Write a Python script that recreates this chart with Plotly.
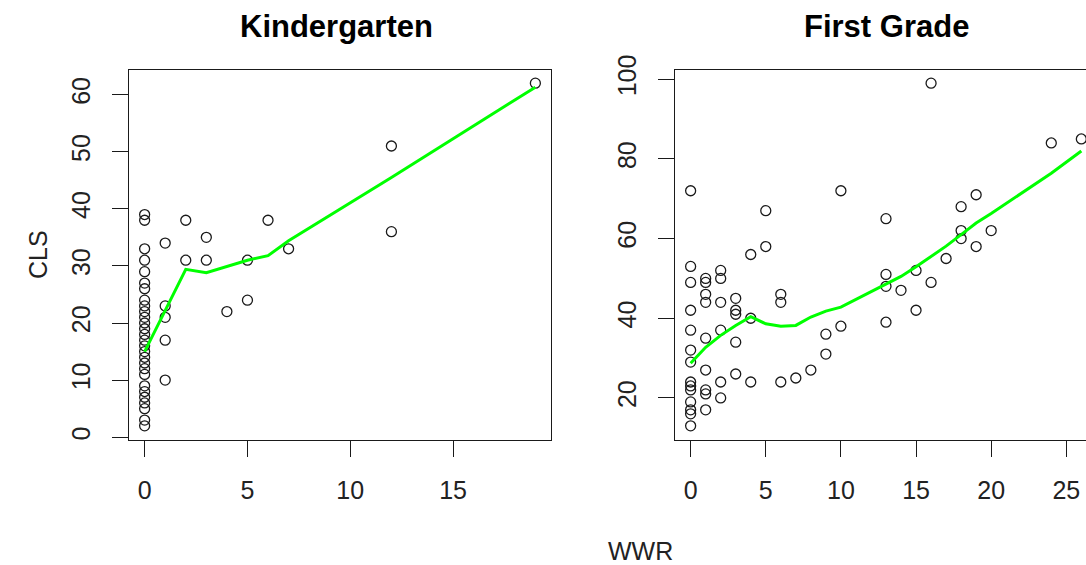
import plotly.graph_objects as go

# ---------------- data ----------------
kinder_wwr = [0]*28 + [1, 1, 1, 1, 1, 2, 2, 3, 3, 4, 5, 5, 6, 7, 12, 12, 19]
kinder_cls = [39, 38, 33, 31, 29, 27, 26, 24, 23, 22, 21, 20, 19, 18, 17, 16, 15, 14,
              13, 12, 11, 9, 8, 7, 6, 5, 3, 2,
              34, 23, 21, 17, 10, 38, 31, 35, 31, 22, 31, 24, 38, 33, 51, 36, 62]

kinder_fit_x = [0, 1, 2, 3, 4, 5, 6, 7, 12, 19]
kinder_fit_y = [15.0, 22.2, 29.4, 28.8, 29.9, 31.0, 31.8, 34.4, 45.5, 61.3]

first_wwr = ([0]*14 + [1]*9 + [2]*6 + [3]*5 + [4]*3 + [5]*2 + [6]*3 + [7, 8] + [9]*2 +
             [10]*2 + [13]*4 + [14] + [15]*2 + [16]*2 + [17] + [18]*3 + [19]*2 + [20, 24, 26])
first_cls = ([72, 53, 49, 42, 37, 32, 29, 24, 23, 22, 19, 17, 16, 13] +
             [50, 49, 46, 44, 35, 27, 22, 21, 17] +
             [52, 50, 44, 37, 24, 20] +
             [45, 42, 41, 34, 26] +
             [56, 40, 24] +
             [67, 58] +
             [46, 44, 24] +
             [25, 27] +
             [36, 31] +
             [72, 38] +
             [65, 51, 48, 39] +
             [47] +
             [52, 42] +
             [99, 49] +
             [55] +
             [68, 62, 60] +
             [71, 58] +
             [62, 84, 85])

first_fit_x = [0, 1, 2, 3, 4, 5, 6, 7, 8, 9, 10, 13, 14, 15, 16, 17, 18, 19, 20, 24, 26]
first_fit_y = [28.7, 32.7, 35.7, 38.2, 40.4, 38.6, 38.0, 38.2, 40.3, 41.8, 42.8, 48.5,
               50.5, 52.9, 55.4, 58.1, 61.0, 63.9, 66.3, 76.4, 82.0]

kinder_xticks = [0, 5, 10, 15]
kinder_yticks = [0, 10, 20, 30, 40, 50, 60]
first_xticks = [0, 5, 10, 15, 20, 25]
first_yticks = [20, 40, 60, 80, 100]

panel_titles = ["Kindergarten", "First Grade"]
x_title = "WWR"
y_title = "CLS"

# ---------------- figure ----------------
W, H = 1086, 565
FONT = "Liberation Sans, Arial, sans-serif"
INK = "#1a1a1a"

marker = dict(symbol="circle-open", size=10, color=INK, line=dict(width=1.3, color=INK))
fitline = dict(color="#00ff00", width=3)

fig = go.Figure()
fig.add_trace(go.Scatter(x=kinder_wwr, y=kinder_cls, mode="markers", marker=marker,
                         xaxis="x", yaxis="y", showlegend=False, hoverinfo="x+y"))
fig.add_trace(go.Scatter(x=kinder_fit_x, y=kinder_fit_y, mode="lines", line=fitline,
                         xaxis="x", yaxis="y", showlegend=False))
fig.add_trace(go.Scatter(x=first_wwr, y=first_cls, mode="markers", marker=marker,
                         xaxis="x2", yaxis="y2", showlegend=False, hoverinfo="x+y"))
fig.add_trace(go.Scatter(x=first_fit_x, y=first_fit_y, mode="lines", line=fitline,
                         xaxis="x2", yaxis="y2", showlegend=False))

ydom = [1 - 439.5 / H, 1 - 69.5 / H]
axis_common = dict(showgrid=False, zeroline=False, showline=True, linecolor=INK, linewidth=1.3,
                   ticks="outside", ticklen=16, tickwidth=1.3, tickcolor=INK, automargin=False,
                   tickfont=dict(family=FONT, size=25, color="#222"))

fig.update_layout(
    template="none",
    width=W, height=H, autosize=False,
    margin=dict(l=0, r=0, t=0, b=0, pad=0, autoexpand=False),
    paper_bgcolor="white", plot_bgcolor="white",
    xaxis=dict(domain=[129 / W, 551 / W], range=[-0.76, 19.76], tickvals=kinder_xticks,
               mirror=True, anchor="y", ticklabelstandoff=12, **axis_common),
    yaxis=dict(domain=ydom, range=[-0.4, 64.4], tickvals=kinder_yticks, tickangle=-90,
               mirror=True, anchor="x", ticklabelstandoff=12, **axis_common),
    xaxis2=dict(domain=[675 / W, 1.0], range=[-1.04, 26.31], tickvals=first_xticks,
                mirror=True, anchor="y2", ticklabelstandoff=12, **axis_common),
    yaxis2=dict(domain=ydom, range=[9.56, 102.44], tickvals=first_yticks, tickangle=-90,
                mirror=False, anchor="x2", ticklabelstandoff=12, **axis_common),
    annotations=[
        dict(text="<b>%s</b>" % panel_titles[0], x=336 / W, y=1 - 26 / H, xref="paper", yref="paper",
             showarrow=False, xanchor="center", yanchor="middle",
             font=dict(family=FONT, size=31, color="black")),
        dict(text="<b>%s</b>" % panel_titles[1], x=886 / W, y=1 - 26 / H, xref="paper", yref="paper",
             showarrow=False, xanchor="center", yanchor="middle",
             font=dict(family=FONT, size=31, color="black")),
        dict(text=x_title, x=640 / W, y=1 - 551 / H, xref="paper", yref="paper",
             showarrow=False, xanchor="center", yanchor="middle",
             font=dict(family=FONT, size=25, color="#222")),
        dict(text=y_title, x=38 / W, y=1 - 255 / H, xref="paper", yref="paper", textangle=-90,
             showarrow=False, xanchor="center", yanchor="middle",
             font=dict(family=FONT, size=25, color="#222")),
    ],
)

fig.write_html("out.html")
